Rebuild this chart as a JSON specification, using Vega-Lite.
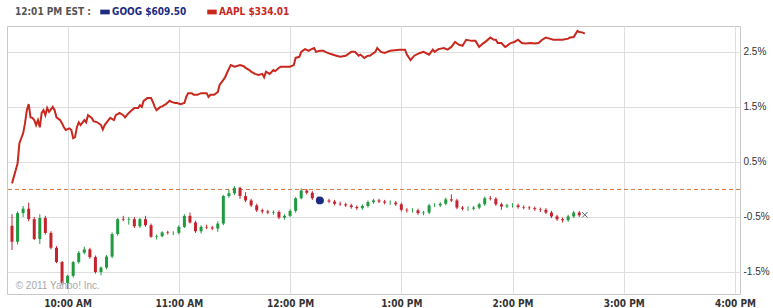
{
"$schema": "https://vega.github.io/schema/vega-lite/v6.json",
"width": 733, "height": 268,
"autosize": {"type": "none"},
"padding": {"left": 7, "top": 26, "right": 33, "bottom": 14},
"background": "#ffffff",
"config": {"view": {"stroke": "#c8c8c8"}, "axis": {"domain": false, "ticks": false, "gridColor": "#dedede", "gridWidth": 1}},
"data": {"format": {"parse": {"t": "date:'%H:%M'"}}, "values": [
{"s":"Z","t":"09:30","v":0},
{"s":"D","t":"12:16","v":-0.2},
{"s":"X","t":"14:39","v":-0.46},
{"s":"C","t":"09:32","v":-1.76,"label":"© 2011 Yahoo! Inc."},
{"s":"A","t":"09:30","v":0.11},{"s":"A","t":"09:32","v":0.35},{"s":"A","t":"09:33","v":0.47},{"s":"A","t":"09:34","v":0.84},{"s":"A","t":"09:36","v":1.02},{"s":"A","t":"09:37","v":1.20},{"s":"A","t":"09:38","v":1.44},{"s":"A","t":"09:39","v":1.55},{"s":"A","t":"09:40","v":1.31},{"s":"A","t":"09:41","v":1.30},{"s":"A","t":"09:42","v":1.26},{"s":"A","t":"09:43","v":1.17},{"s":"A","t":"09:44","v":1.26},{"s":"A","t":"09:45","v":1.13},{"s":"A","t":"09:46","v":1.39},{"s":"A","t":"09:47","v":1.44},{"s":"A","t":"09:48","v":1.35},{"s":"A","t":"09:49","v":1.48},{"s":"A","t":"09:50","v":1.41},{"s":"A","t":"09:52","v":1.50},{"s":"A","t":"09:53","v":1.44},{"s":"A","t":"09:54","v":1.31},{"s":"A","t":"09:56","v":1.26},{"s":"A","t":"09:57","v":1.20},{"s":"A","t":"09:58","v":1.13},{"s":"A","t":"09:59","v":1.08},{"s":"A","t":"10:01","v":1.11},{"s":"A","t":"10:02","v":1.08},{"s":"A","t":"10:03","v":0.93},{"s":"A","t":"10:04","v":0.95},{"s":"A","t":"10:05","v":1.13},{"s":"A","t":"10:06","v":1.22},{"s":"A","t":"10:07","v":1.17},{"s":"A","t":"10:09","v":1.26},{"s":"A","t":"10:10","v":1.22},{"s":"A","t":"10:11","v":1.35},{"s":"A","t":"10:13","v":1.30},{"s":"A","t":"10:14","v":1.24},{"s":"A","t":"10:16","v":1.22},{"s":"A","t":"10:18","v":1.17},{"s":"A","t":"10:19","v":1.09},{"s":"A","t":"10:20","v":1.17},{"s":"A","t":"10:22","v":1.26},{"s":"A","t":"10:23","v":1.30},{"s":"A","t":"10:25","v":1.26},{"s":"A","t":"10:26","v":1.35},{"s":"A","t":"10:28","v":1.39},{"s":"A","t":"10:30","v":1.35},{"s":"A","t":"10:31","v":1.31},{"s":"A","t":"10:33","v":1.39},{"s":"A","t":"10:34","v":1.42},{"s":"A","t":"10:36","v":1.48},{"s":"A","t":"10:38","v":1.48},{"s":"A","t":"10:39","v":1.53},{"s":"A","t":"10:40","v":1.50},{"s":"A","t":"10:41","v":1.61},{"s":"A","t":"10:43","v":1.66},{"s":"A","t":"10:45","v":1.66},{"s":"A","t":"10:46","v":1.59},{"s":"A","t":"10:47","v":1.50},{"s":"A","t":"10:48","v":1.44},{"s":"A","t":"10:50","v":1.50},{"s":"A","t":"10:51","v":1.51},{"s":"A","t":"10:53","v":1.55},{"s":"A","t":"10:55","v":1.61},{"s":"A","t":"10:56","v":1.59},{"s":"A","t":"10:58","v":1.57},{"s":"A","t":"10:59","v":1.57},{"s":"A","t":"11:01","v":1.55},{"s":"A","t":"11:03","v":1.57},{"s":"A","t":"11:04","v":1.68},{"s":"A","t":"11:05","v":1.75},{"s":"A","t":"11:07","v":1.75},{"s":"A","t":"11:08","v":1.72},{"s":"A","t":"11:10","v":1.72},{"s":"A","t":"11:12","v":1.75},{"s":"A","t":"11:13","v":1.75},{"s":"A","t":"11:15","v":1.75},{"s":"A","t":"11:16","v":1.68},{"s":"A","t":"11:17","v":1.72},{"s":"A","t":"11:19","v":1.72},{"s":"A","t":"11:21","v":1.77},{"s":"A","t":"11:22","v":1.90},{"s":"A","t":"11:24","v":1.99},{"s":"A","t":"11:25","v":2.04},{"s":"A","t":"11:26","v":2.12},{"s":"A","t":"11:27","v":2.19},{"s":"A","t":"11:28","v":2.26},{"s":"A","t":"11:30","v":2.23},{"s":"A","t":"11:31","v":2.24},{"s":"A","t":"11:33","v":2.26},{"s":"A","t":"11:35","v":2.24},{"s":"A","t":"11:36","v":2.21},{"s":"A","t":"11:38","v":2.17},{"s":"A","t":"11:39","v":2.14},{"s":"A","t":"11:41","v":2.10},{"s":"A","t":"11:43","v":2.08},{"s":"A","t":"11:45","v":2.10},{"s":"A","t":"11:46","v":2.04},{"s":"A","t":"11:47","v":2.14},{"s":"A","t":"11:49","v":2.10},{"s":"A","t":"11:51","v":2.17},{"s":"A","t":"11:52","v":2.15},{"s":"A","t":"11:54","v":2.21},{"s":"A","t":"11:55","v":2.23},{"s":"A","t":"11:57","v":2.23},{"s":"A","t":"12:00","v":2.23},{"s":"A","t":"12:02","v":2.26},{"s":"A","t":"12:03","v":2.39},{"s":"A","t":"12:05","v":2.41},{"s":"A","t":"12:06","v":2.50},{"s":"A","t":"12:08","v":2.55},{"s":"A","t":"12:10","v":2.52},{"s":"A","t":"12:11","v":2.54},{"s":"A","t":"12:13","v":2.57},{"s":"A","t":"12:14","v":2.50},{"s":"A","t":"12:16","v":2.52},{"s":"A","t":"12:18","v":2.52},{"s":"A","t":"12:19","v":2.50},{"s":"A","t":"12:22","v":2.46},{"s":"A","t":"12:25","v":2.43},{"s":"A","t":"12:27","v":2.41},{"s":"A","t":"12:30","v":2.43},{"s":"A","t":"12:33","v":2.50},{"s":"A","t":"12:35","v":2.50},{"s":"A","t":"12:37","v":2.43},{"s":"A","t":"12:38","v":2.45},{"s":"A","t":"12:40","v":2.39},{"s":"A","t":"12:42","v":2.43},{"s":"A","t":"12:43","v":2.43},{"s":"A","t":"12:46","v":2.50},{"s":"A","t":"12:47","v":2.57},{"s":"A","t":"12:49","v":2.50},{"s":"A","t":"12:51","v":2.48},{"s":"A","t":"12:54","v":2.52},{"s":"A","t":"12:59","v":2.54},{"s":"A","t":"13:02","v":2.54},{"s":"A","t":"13:03","v":2.45},{"s":"A","t":"13:05","v":2.35},{"s":"A","t":"13:07","v":2.43},{"s":"A","t":"13:10","v":2.48},{"s":"A","t":"13:12","v":2.50},{"s":"A","t":"13:15","v":2.45},{"s":"A","t":"13:17","v":2.54},{"s":"A","t":"13:18","v":2.50},{"s":"A","t":"13:20","v":2.55},{"s":"A","t":"13:23","v":2.57},{"s":"A","t":"13:25","v":2.54},{"s":"A","t":"13:27","v":2.59},{"s":"A","t":"13:29","v":2.68},{"s":"A","t":"13:31","v":2.63},{"s":"A","t":"13:33","v":2.61},{"s":"A","t":"13:35","v":2.72},{"s":"A","t":"13:38","v":2.70},{"s":"A","t":"13:40","v":2.70},{"s":"A","t":"13:42","v":2.59},{"s":"A","t":"13:44","v":2.65},{"s":"A","t":"13:46","v":2.70},{"s":"A","t":"13:48","v":2.76},{"s":"A","t":"13:50","v":2.72},{"s":"A","t":"13:51","v":2.72},{"s":"A","t":"13:52","v":2.66},{"s":"A","t":"13:54","v":2.66},{"s":"A","t":"13:56","v":2.59},{"s":"A","t":"13:57","v":2.61},{"s":"A","t":"13:59","v":2.66},{"s":"A","t":"14:01","v":2.68},{"s":"A","t":"14:03","v":2.72},{"s":"A","t":"14:05","v":2.66},{"s":"A","t":"14:07","v":2.65},{"s":"A","t":"14:10","v":2.66},{"s":"A","t":"14:12","v":2.65},{"s":"A","t":"14:14","v":2.66},{"s":"A","t":"14:16","v":2.72},{"s":"A","t":"14:18","v":2.76},{"s":"A","t":"14:20","v":2.74},{"s":"A","t":"14:22","v":2.72},{"s":"A","t":"14:24","v":2.72},{"s":"A","t":"14:27","v":2.72},{"s":"A","t":"14:30","v":2.74},{"s":"A","t":"14:31","v":2.76},{"s":"A","t":"14:33","v":2.77},{"s":"A","t":"14:35","v":2.88},{"s":"A","t":"14:36","v":2.86},{"s":"A","t":"14:38","v":2.85},{"s":"A","t":"14:39","v":2.83},
{"s":"G","t":"09:30","o":-0.66,"c":-0.95,"h":-0.45,"l":-1.10},{"s":"G","t":"09:33","o":-0.95,"c":-0.43,"h":-0.40,"l":-1.00},{"s":"G","t":"09:36","o":-0.43,"c":-0.35,"h":-0.30,"l":-0.50},{"s":"G","t":"09:39","o":-0.35,"c":-0.54,"h":-0.24,"l":-0.58},{"s":"G","t":"09:42","o":-0.54,"c":-0.90,"h":-0.50,"l":-0.92},{"s":"G","t":"09:45","o":-0.90,"c":-0.52,"h":-0.45,"l":-0.99},{"s":"G","t":"09:48","o":-0.52,"c":-0.79,"h":-0.48,"l":-0.82},{"s":"G","t":"09:51","o":-0.79,"c":-1.06,"h":-0.76,"l":-1.09},{"s":"G","t":"09:54","o":-1.06,"c":-1.32,"h":-1.03,"l":-1.34},{"s":"G","t":"09:57","o":-1.32,"c":-1.70,"h":-1.30,"l":-1.74},{"s":"G","t":"10:00","o":-1.70,"c":-1.57,"h":-1.55,"l":-1.81},{"s":"G","t":"10:03","o":-1.57,"c":-1.32,"h":-1.30,"l":-1.60},{"s":"G","t":"10:06","o":-1.32,"c":-1.15,"h":-1.12,"l":-1.35},{"s":"G","t":"10:09","o":-1.15,"c":-1.09,"h":-1.04,"l":-1.18},{"s":"G","t":"10:12","o":-1.09,"c":-1.23,"h":-1.06,"l":-1.26},{"s":"G","t":"10:15","o":-1.23,"c":-1.50,"h":-1.20,"l":-1.53},{"s":"G","t":"10:18","o":-1.50,"c":-1.42,"h":-1.40,"l":-1.56},{"s":"G","t":"10:21","o":-1.42,"c":-1.22,"h":-1.19,"l":-1.45},{"s":"G","t":"10:24","o":-1.22,"c":-0.81,"h":-0.78,"l":-1.25},{"s":"G","t":"10:27","o":-0.81,"c":-0.54,"h":-0.52,"l":-0.84},{"s":"G","t":"10:30","o":-0.54,"c":-0.55,"h":-0.48,"l":-0.58},{"s":"G","t":"10:33","o":-0.55,"c":-0.54,"h":-0.50,"l":-0.64},{"s":"G","t":"10:36","o":-0.54,"c":-0.67,"h":-0.50,"l":-0.70},{"s":"G","t":"10:39","o":-0.67,"c":-0.54,"h":-0.52,"l":-0.70},{"s":"G","t":"10:42","o":-0.54,"c":-0.65,"h":-0.48,"l":-0.68},{"s":"G","t":"10:45","o":-0.65,"c":-0.86,"h":-0.62,"l":-0.88},{"s":"G","t":"10:48","o":-0.86,"c":-0.85,"h":-0.82,"l":-0.91},{"s":"G","t":"10:51","o":-0.85,"c":-0.78,"h":-0.76,"l":-0.87},{"s":"G","t":"10:54","o":-0.78,"c":-0.79,"h":-0.75,"l":-0.82},{"s":"G","t":"10:57","o":-0.79,"c":-0.79,"h":-0.76,"l":-0.83},{"s":"G","t":"11:00","o":-0.79,"c":-0.68,"h":-0.65,"l":-0.82},{"s":"G","t":"11:03","o":-0.68,"c":-0.48,"h":-0.45,"l":-0.70},{"s":"G","t":"11:06","o":-0.48,"c":-0.60,"h":-0.42,"l":-0.62},{"s":"G","t":"11:09","o":-0.60,"c":-0.76,"h":-0.57,"l":-0.79},{"s":"G","t":"11:12","o":-0.76,"c":-0.68,"h":-0.65,"l":-0.80},{"s":"G","t":"11:15","o":-0.68,"c":-0.69,"h":-0.64,"l":-0.72},{"s":"G","t":"11:18","o":-0.69,"c":-0.71,"h":-0.66,"l":-0.74},{"s":"G","t":"11:21","o":-0.71,"c":-0.62,"h":-0.58,"l":-0.77},{"s":"G","t":"11:24","o":-0.62,"c":-0.12,"h":-0.10,"l":-0.65},{"s":"G","t":"11:27","o":-0.12,"c":-0.07,"h":0.00,"l":-0.15},{"s":"G","t":"11:30","o":-0.07,"c":0.03,"h":0.06,"l":-0.10},{"s":"G","t":"11:33","o":0.03,"c":-0.12,"h":0.05,"l":-0.17},{"s":"G","t":"11:36","o":-0.12,"c":-0.20,"h":-0.05,"l":-0.23},{"s":"G","t":"11:39","o":-0.20,"c":-0.29,"h":-0.17,"l":-0.32},{"s":"G","t":"11:42","o":-0.29,"c":-0.38,"h":-0.26,"l":-0.41},{"s":"G","t":"11:45","o":-0.38,"c":-0.40,"h":-0.35,"l":-0.44},{"s":"G","t":"11:48","o":-0.40,"c":-0.42,"h":-0.37,"l":-0.45},{"s":"G","t":"11:51","o":-0.42,"c":-0.41,"h":-0.38,"l":-0.46},{"s":"G","t":"11:54","o":-0.41,"c":-0.51,"h":-0.38,"l":-0.54},{"s":"G","t":"11:57","o":-0.51,"c":-0.48,"h":-0.45,"l":-0.55},{"s":"G","t":"12:00","o":-0.48,"c":-0.39,"h":-0.36,"l":-0.50},{"s":"G","t":"12:03","o":-0.39,"c":-0.16,"h":-0.14,"l":-0.42},{"s":"G","t":"12:06","o":-0.16,"c":-0.02,"h":0.02,"l":-0.18},{"s":"G","t":"12:09","o":-0.02,"c":-0.06,"h":0.01,"l":-0.09},{"s":"G","t":"12:12","o":-0.06,"c":-0.16,"h":-0.03,"l":-0.19},{"s":"G","t":"12:15","o":-0.16,"c":-0.20,"h":-0.13,"l":-0.23},{"s":"G","t":"12:18","o":-0.20,"c":-0.20,"h":-0.17,"l":-0.24},{"s":"G","t":"12:21","o":-0.20,"c":-0.22,"h":-0.17,"l":-0.25},{"s":"G","t":"12:24","o":-0.22,"c":-0.26,"h":-0.19,"l":-0.29},{"s":"G","t":"12:27","o":-0.26,"c":-0.27,"h":-0.22,"l":-0.30},{"s":"G","t":"12:30","o":-0.27,"c":-0.29,"h":-0.24,"l":-0.32},{"s":"G","t":"12:33","o":-0.29,"c":-0.32,"h":-0.26,"l":-0.35},{"s":"G","t":"12:36","o":-0.32,"c":-0.34,"h":-0.29,"l":-0.37},{"s":"G","t":"12:39","o":-0.34,"c":-0.30,"h":-0.27,"l":-0.37},{"s":"G","t":"12:42","o":-0.30,"c":-0.23,"h":-0.20,"l":-0.33},{"s":"G","t":"12:45","o":-0.23,"c":-0.20,"h":-0.17,"l":-0.26},{"s":"G","t":"12:48","o":-0.20,"c":-0.22,"h":-0.17,"l":-0.25},{"s":"G","t":"12:51","o":-0.22,"c":-0.24,"h":-0.19,"l":-0.27},{"s":"G","t":"12:54","o":-0.24,"c":-0.24,"h":-0.20,"l":-0.28},{"s":"G","t":"12:57","o":-0.24,"c":-0.27,"h":-0.21,"l":-0.30},{"s":"G","t":"13:00","o":-0.27,"c":-0.37,"h":-0.24,"l":-0.40},{"s":"G","t":"13:03","o":-0.37,"c":-0.38,"h":-0.34,"l":-0.42},{"s":"G","t":"13:06","o":-0.38,"c":-0.38,"h":-0.34,"l":-0.42},{"s":"G","t":"13:09","o":-0.38,"c":-0.43,"h":-0.35,"l":-0.46},{"s":"G","t":"13:12","o":-0.43,"c":-0.42,"h":-0.39,"l":-0.47},{"s":"G","t":"13:15","o":-0.42,"c":-0.29,"h":-0.26,"l":-0.45},{"s":"G","t":"13:18","o":-0.29,"c":-0.29,"h":-0.25,"l":-0.32},{"s":"G","t":"13:21","o":-0.29,"c":-0.26,"h":-0.23,"l":-0.32},{"s":"G","t":"13:24","o":-0.26,"c":-0.18,"h":-0.15,"l":-0.29},{"s":"G","t":"13:27","o":-0.18,"c":-0.20,"h":-0.09,"l":-0.23},{"s":"G","t":"13:30","o":-0.20,"c":-0.33,"h":-0.17,"l":-0.36},{"s":"G","t":"13:33","o":-0.33,"c":-0.35,"h":-0.30,"l":-0.38},{"s":"G","t":"13:36","o":-0.35,"c":-0.35,"h":-0.31,"l":-0.39},{"s":"G","t":"13:39","o":-0.35,"c":-0.33,"h":-0.30,"l":-0.38},{"s":"G","t":"13:42","o":-0.33,"c":-0.27,"h":-0.24,"l":-0.36},{"s":"G","t":"13:45","o":-0.27,"c":-0.16,"h":-0.13,"l":-0.30},{"s":"G","t":"13:48","o":-0.16,"c":-0.17,"h":-0.12,"l":-0.20},{"s":"G","t":"13:51","o":-0.17,"c":-0.27,"h":-0.14,"l":-0.30},{"s":"G","t":"13:54","o":-0.27,"c":-0.31,"h":-0.24,"l":-0.37},{"s":"G","t":"13:57","o":-0.31,"c":-0.29,"h":-0.26,"l":-0.34},{"s":"G","t":"14:00","o":-0.29,"c":-0.29,"h":-0.25,"l":-0.33},{"s":"G","t":"14:03","o":-0.29,"c":-0.32,"h":-0.26,"l":-0.35},{"s":"G","t":"14:06","o":-0.32,"c":-0.33,"h":-0.29,"l":-0.36},{"s":"G","t":"14:09","o":-0.33,"c":-0.34,"h":-0.30,"l":-0.37},{"s":"G","t":"14:12","o":-0.34,"c":-0.36,"h":-0.31,"l":-0.39},{"s":"G","t":"14:15","o":-0.36,"c":-0.37,"h":-0.33,"l":-0.41},{"s":"G","t":"14:18","o":-0.37,"c":-0.42,"h":-0.34,"l":-0.45},{"s":"G","t":"14:21","o":-0.42,"c":-0.49,"h":-0.39,"l":-0.52},{"s":"G","t":"14:24","o":-0.49,"c":-0.54,"h":-0.46,"l":-0.57},{"s":"G","t":"14:27","o":-0.54,"c":-0.56,"h":-0.51,"l":-0.60},{"s":"G","t":"14:30","o":-0.56,"c":-0.49,"h":-0.46,"l":-0.59},{"s":"G","t":"14:33","o":-0.49,"c":-0.42,"h":-0.39,"l":-0.52},{"s":"G","t":"14:36","o":-0.42,"c":-0.47,"h":-0.39,"l":-0.50}
]},
"layer": [
{
"transform": [{"filter": "datum.s == 'A'"}],
"mark": {"type": "line", "strokeWidth": 2},
"encoding": {
"x": {"field": "t", "type": "temporal",
 "scale": {"domain": [{"year": 1900, "month": 1, "date": 1, "hours": 9, "minutes": 30}, {"year": 1900, "month": 1, "date": 1, "hours": 16, "minutes": 0}], "nice": false},
 "axis": {"title": null, "grid": true, "format": "%-I:%M %p", "tickCount": 7, "labelPadding": 4,
  "labelFont": "DejaVu Sans Condensed, DejaVu Sans", "labelFontSize": 10, "labelFontWeight": "bold", "labelColor": "#333333"}},
"y": {"field": "v", "type": "quantitative", "scale": {"domain": [-1.9, 2.97], "nice": false, "zero": false},
 "axis": {"title": null, "orient": "right", "grid": true, "values": [-1.5, -1, -0.5, 0, 0.5, 1, 1.5, 2, 2.5], "labelOverlap": false,
  "labelExpr": "datum.value == 0 ? '0%' : (datum.value < 0 ? '-' : '') + format(abs(datum.value), '.1f') + '%'",
  "labelPadding": 3, "labelFontSize": 10, "labelColor": "#333333"}},
"color": {"datum": "AAPL $334.01", "type": "nominal",
 "scale": {"domain": ["GOOG $609.50", "AAPL $334.01"], "range": ["#1d2c80", "#c8281e"]},
 "legend": {"orient": "none", "legendX": 8, "legendY": -19, "direction": "horizontal",
  "title": "12:01 PM EST :", "titleOrient": "left", "titleFont": "DejaVu Sans Condensed, DejaVu Sans", "titleFontSize": 10, "titleFontWeight": "bold", "titleColor": "#555555", "titlePadding": 9,
  "labelFont": "DejaVu Sans Condensed, DejaVu Sans", "labelFontSize": 10, "labelFontWeight": "bold", "labelOffset": 2, "columnPadding": 20,
  "symbolType": "M-1,-0.5H1V0.5H-1Z", "symbolSize": 90, "symbolStrokeWidth": 0,
  "encode": {"labels": {"update": {"fill": {"scale": "color", "field": "value"}}}, "symbols": {"update": {"fill": {"scale": "color", "field": "value"}, "opacity": {"value": 1}}}}}}
}
},
{
"transform": [{"filter": "datum.s == 'Z'"}],
"mark": {"type": "rule", "color": "#d4773f", "strokeDash": [4, 3], "strokeWidth": 1},
"encoding": {"y": {"field": "v", "type": "quantitative"}}
},
{
"transform": [{"filter": "datum.s == 'G'"}],
"mark": {"type": "rule", "strokeWidth": 1},
"encoding": {
"x": {"field": "t", "type": "temporal"},
"y": {"field": "l", "type": "quantitative"},
"y2": {"field": "h"},
"color": {"condition": {"test": "datum.c >= datum.o", "value": "#1f9a3f"}, "value": "#c4222c"}
}
},
{
"transform": [{"filter": "datum.s == 'G'"}],
"mark": {"type": "bar", "width": 3},
"encoding": {
"x": {"field": "t", "type": "temporal"},
"y": {"field": "o", "type": "quantitative"},
"y2": {"field": "c"},
"color": {"condition": {"test": "datum.c >= datum.o", "value": "#1f9a3f"}, "value": "#c4222c"}
}
},
{
"transform": [{"filter": "datum.s == 'D'"}],
"mark": {"type": "point", "filled": true, "size": 60, "color": "#1d2c80", "opacity": 1},
"encoding": {"x": {"field": "t", "type": "temporal"}, "y": {"field": "v", "type": "quantitative"}}
},
{
"transform": [{"filter": "datum.s == 'X'"}],
"mark": {"type": "point", "shape": "M-1,-1L1,1M-1,1L1,-1", "filled": false, "size": 30, "color": "#556070", "strokeWidth": 1, "opacity": 1},
"encoding": {"x": {"field": "t", "type": "temporal"}, "y": {"field": "v", "type": "quantitative"}}
},
{
"transform": [{"filter": "datum.s == 'C'"}],
"mark": {"type": "text", "align": "left", "baseline": "middle", "font": "Liberation Sans", "fontSize": 10, "color": "#a8a8a8"},
"encoding": {"x": {"field": "t", "type": "temporal"}, "y": {"field": "v", "type": "quantitative"}, "text": {"field": "label"}}
}
]
}
